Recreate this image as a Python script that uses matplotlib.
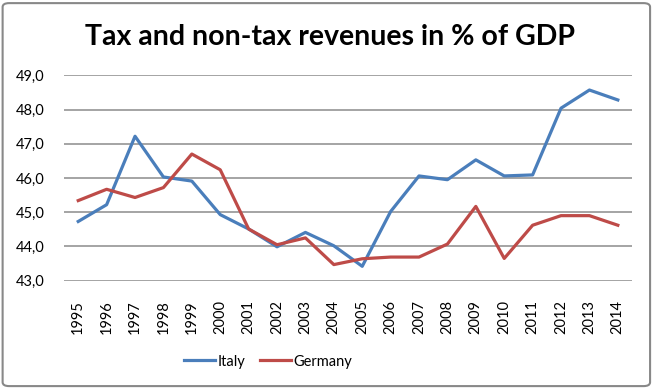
import matplotlib.pyplot as plt
from matplotlib.patches import FancyBboxPatch
import numpy as np

# years and series
years = [str(y) for y in range(1995, 2015)]
italy = [44.73, 45.22, 47.22, 46.03, 45.91, 44.93, 44.51, 43.99, 44.41, 44.02,
         43.42, 45.02, 46.06, 45.95, 46.53, 46.06, 46.09, 48.04, 48.57, 48.28]
germany = [45.34, 45.67, 45.43, 45.72, 46.70, 46.24, 44.51, 44.05, 44.25, 43.47,
           43.64, 43.69, 43.69, 44.07, 45.17, 43.65, 44.62, 44.90, 44.90, 44.62]
yticks = [43, 44, 45, 46, 47, 48, 49]

plt.rcParams['font.family'] = ['Lato', 'DejaVu Sans']

fig = plt.figure(figsize=(6.54, 3.9), dpi=100)
ax = fig.add_axes([0.0979, 0.2803, 0.8685, 0.5266])

x = np.arange(len(years))
ax.plot(x, italy, color='#4A7EBB', lw=2.3, label='Italy')
ax.plot(x, germany, color='#BE4B48', lw=2.3, label='Germany')

ax.set_xlim(-0.5, len(years) - 0.5)
ax.set_ylim(43, 49)
ax.set_yticks(yticks)
ax.set_yticklabels([f'{v:.1f}'.replace('.', ',') for v in yticks], fontsize=10.5)
ax.set_xticks(x)
ax.set_xticklabels(years, rotation=90, fontsize=10.5)
ax.tick_params(axis='y', length=0, pad=14)
ax.tick_params(axis='x', length=0, pad=14)
for s in ax.spines.values():
    s.set_visible(False)
ax.grid(True, axis='y', color='#8c8c8c', lw=1.1)
ax.set_axisbelow(True)

fig.text(0.505, 0.905, 'Tax and non-tax revenues in % of GDP', ha='center', va='center',
         fontsize=20.5, fontweight='bold')

fig.legend(loc='center', bbox_to_anchor=(0.41, 0.073), ncol=2, frameon=False,
           fontsize=10.5, handlelength=2.1, handletextpad=0.2, columnspacing=1.0)

border = FancyBboxPatch((0.004, 0.01), 0.99, 0.982, boxstyle='round,pad=0,rounding_size=0.01',
                        transform=fig.transFigure, fill=False, ec='#888888', lw=1.5)
fig.patches.append(border)

plt.savefig('out.png', dpi=100)
